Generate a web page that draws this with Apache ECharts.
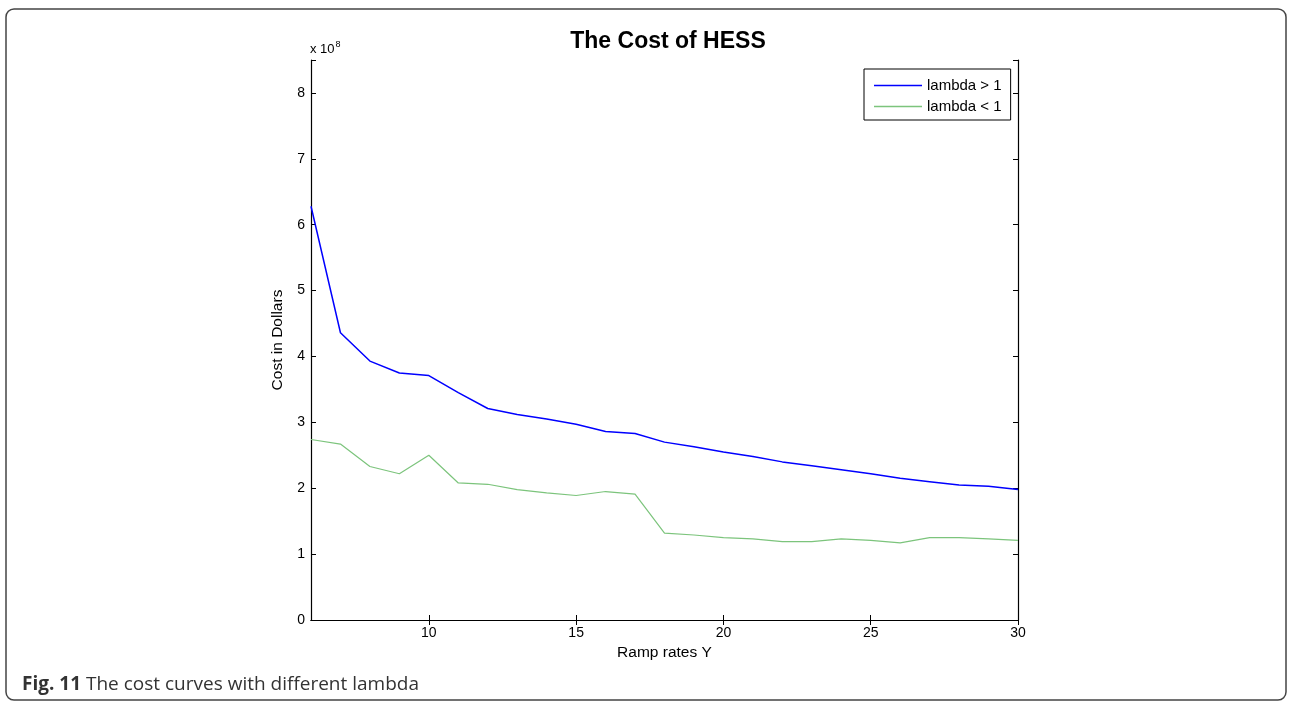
<!DOCTYPE html>
<html>
<head>
<meta charset="utf-8">
<script src="https://cdn.jsdelivr.net/npm/echarts@6/dist/echarts.min.js"></script>
<style>
  html, body { margin: 0; padding: 0; background: #fff; }
  #chart { width: 1292px; height: 704px; }
</style>
</head>
<body>
<div id="chart"></div>
<script>
// ramp rate Y on the x axis
const rampRates = [6, 7, 8, 9, 10, 11, 12, 13, 14, 15, 16, 17, 18, 19, 20, 21, 22, 23, 24, 25, 26, 27, 28, 29, 30]
// cost, in units of 1e8 dollars
const costLambdaGt1 = [6.28, 4.36, 3.93, 3.75, 3.71, 3.45, 3.21, 3.12, 3.05, 2.97, 2.86, 2.83, 2.70, 2.63, 2.55, 2.48, 2.40, 2.34, 2.28, 2.22, 2.15, 2.10, 2.05, 2.03, 1.98]
const costLambdaLt1 = [2.74, 2.67, 2.33, 2.22, 2.50, 2.08, 2.06, 1.98, 1.93, 1.89, 1.95, 1.91, 1.32, 1.29, 1.25, 1.23, 1.19, 1.19, 1.23, 1.21, 1.17, 1.25, 1.25, 1.23, 1.21]
const xTickValues = [10, 15, 20, 25, 30]
const seriesNames = ['lambda > 1', 'lambda < 1']

const font = 'Liberation Sans, Arial, sans-serif'
const captionFont = 'Open Sans, Noto Sans, sans-serif'
const blue = '#0000ff'
const green = '#7cc47c'

const pairs = (ys) => rampRates.map((x, i) => [x, ys[i]])

const xBase = {
  type: 'value',
  min: 6,
  max: 30,
  axisLine: { show: true, lineStyle: { color: '#000', width: 1.2 } },
  axisTick: { show: true, inside: true, length: 5, customValues: xTickValues, lineStyle: { color: '#000' } },
  splitLine: { show: false },
}
const yBase = {
  type: 'value',
  min: 0,
  max: 8.5,
  interval: 1,
  axisLine: { show: true, lineStyle: { color: '#000', width: 1.2 } },
  axisTick: { show: true, inside: true, length: 5, lineStyle: { color: '#000' } },
  splitLine: { show: false },
}

const options = {
  animation: false,
  backgroundColor: '#fff',
  grid: { left: 311, right: 274, top: 60, bottom: 84, containLabel: false },
  title: {
    text: 'The Cost of HESS',
    left: 663,
    top: 25,
    textAlign: 'center',
    textStyle: { fontFamily: font, fontSize: 23, fontWeight: 'bold', color: '#000' },
  },
  legend: {
    data: [
      { name: seriesNames[0], icon: 'rect', itemStyle: { color: blue } },
      { name: seriesNames[1], icon: 'rect', itemStyle: { color: green } },
    ],
    orient: 'vertical',
    left: 864,
    top: 69,
    borderColor: '#000',
    borderWidth: 1,
    padding: [9, 9, 6, 10],
    itemGap: 6,
    itemWidth: 48,
    itemHeight: 1.5,
    textStyle: { fontFamily: font, fontSize: 15, color: '#000' },
  },
  xAxis: [
    {
      ...xBase,
      position: 'bottom',
      name: 'Ramp rates Y',
      nameLocation: 'middle',
      nameGap: 25,
      nameTextStyle: { fontFamily: font, fontSize: 15.5, color: '#000' },
      axisLabel: { customValues: xTickValues, margin: 6, fontFamily: font, fontSize: 14, color: '#000' },
    },
    { ...xBase, position: 'top', axisLabel: { show: false } },
  ],
  yAxis: [
    {
      ...yBase,
      position: 'left',
      name: 'Cost in Dollars',
      nameLocation: 'middle',
      nameGap: 25,
      nameTextStyle: { fontFamily: font, fontSize: 15.5, color: '#000' },
      axisLabel: {
        margin: 6,
        fontFamily: font,
        fontSize: 14,
        color: '#000',
        formatter: (v) => (Number.isInteger(v) ? String(v) : ''),
      },
    },
    { ...yBase, position: 'right', axisLabel: { show: false } },
  ],
  graphic: [
    {
      type: 'rect',
      shape: { x: 6, y: 9, width: 1280, height: 691, r: 8 },
      style: { fill: 'none', stroke: '#444', lineWidth: 1.5 },
      silent: true,
    },
    {
      type: 'text',
      left: 310,
      top: 40,
      style: {
        text: 'x 10{s|8}',
        fontFamily: font,
        fontSize: 13,
        fill: '#000',
        rich: { s: { fontFamily: font, fontSize: 9, verticalAlign: 'top', padding: [0, 0, 9, 1] } },
      },
    },
    {
      type: 'text',
      left: 22,
      top: 675,
      style: {
        text: '{b|Fig. 11} The cost curves with different lambda',
        fontFamily: captionFont,
        fontSize: 19,
        fill: '#333',
        rich: { b: { fontFamily: captionFont, fontSize: 19, fontWeight: 'bold', fill: '#333' } },
      },
    },
  ],
  series: [
    {
      name: seriesNames[0],
      type: 'line',
      data: pairs(costLambdaGt1),
      symbol: 'none',
      lineStyle: { color: blue, width: 1.5 },
      itemStyle: { color: blue },
    },
    {
      name: seriesNames[1],
      type: 'line',
      data: pairs(costLambdaLt1),
      symbol: 'none',
      lineStyle: { color: green, width: 1.2 },
      itemStyle: { color: green },
    },
  ],
}

const chart = echarts.init(document.getElementById('chart'))
chart.setOption(options)
window.addEventListener('resize', function () {
  chart && chart.resize()
})
</script>
</body>
</html>
